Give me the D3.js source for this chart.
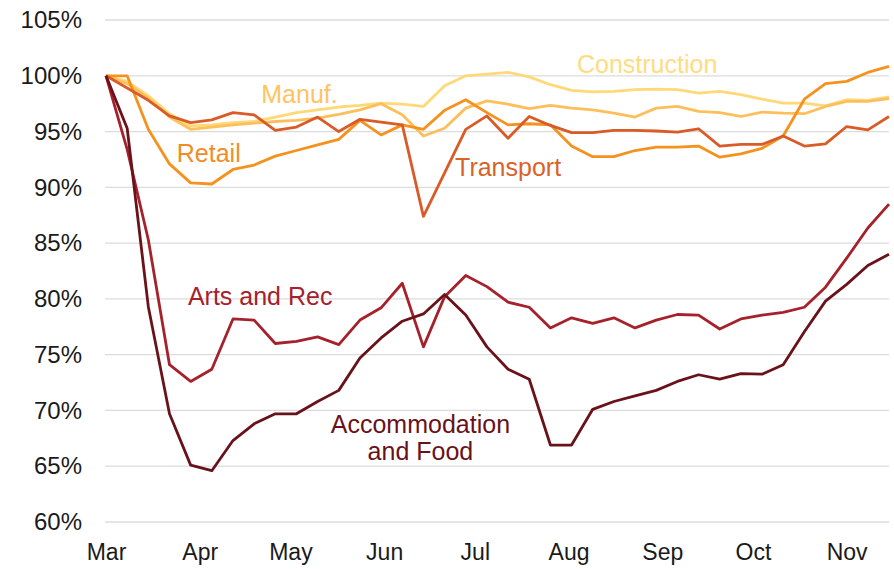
<!DOCTYPE html>
<html>
<head>
<meta charset="utf-8">
<script src="https://cdn.jsdelivr.net/npm/d3@7"></script>
<style>
  html, body { margin: 0; padding: 0; background: #fff; }
  svg { display: block; font-family: 'Liberation Sans', Arial, Helvetica, sans-serif; }
</style>
</head>
<body>
<svg id="chart" width="894" height="569"></svg>
<script>
// weekly observations, Mar 1 .. Nov 15
const weeks = [
  '2020-03-01', '2020-03-08', '2020-03-15', '2020-03-22', '2020-03-29',
  '2020-04-05', '2020-04-12', '2020-04-19', '2020-04-26',
  '2020-05-03', '2020-05-10', '2020-05-17', '2020-05-24', '2020-05-31',
  '2020-06-07', '2020-06-14', '2020-06-21', '2020-06-28',
  '2020-07-05', '2020-07-12', '2020-07-19', '2020-07-26',
  '2020-08-02', '2020-08-09', '2020-08-16', '2020-08-23', '2020-08-30',
  '2020-09-06', '2020-09-13', '2020-09-20', '2020-09-27',
  '2020-10-04', '2020-10-11', '2020-10-18', '2020-10-25',
  '2020-11-01', '2020-11-08', '2020-11-15',
]

const construction = [
  100, 99.5, 98.2, 96.6, 95.5, 95.6, 95.8, 95.9, 96.3, 96.7,
  96.95, 97.2, 97.35, 97.55, 97.45, 97.25, 99.1, 100.0, 100.15, 100.3,
  99.9, 99.2, 98.7, 98.55, 98.6, 98.75, 98.8, 98.75, 98.45, 98.6,
  98.3, 97.9, 97.55, 97.55, 97.3, 97.85, 97.8, 98.1,
]
const manuf = [
  100, 99.3, 98.0, 96.3, 95.2, 95.4, 95.6, 95.75, 95.9, 96.0,
  96.2, 96.55, 96.95, 97.5, 96.5, 94.6, 95.3, 97.1, 97.75, 97.45,
  97.05, 97.35, 97.1, 96.95, 96.65, 96.3, 97.1, 97.25, 96.8, 96.7,
  96.35, 96.75, 96.65, 96.6, 97.25, 97.7, 97.7, 97.95,
]
const retail = [
  100, 100, 95.2, 92.1, 90.4, 90.3, 91.6, 92.0, 92.8, 93.3,
  93.8, 94.3, 96.0, 94.7, 95.6, 95.2, 96.9, 97.85, 96.7, 95.6,
  95.7, 95.6, 93.7, 92.75, 92.75, 93.3, 93.6, 93.6, 93.7, 92.7,
  93.0, 93.5, 94.6, 97.9, 99.3, 99.5, 100.3, 100.85,
]
const transport = [
  100, 98.9, 97.8, 96.4, 95.8, 96.05, 96.7, 96.5, 95.1, 95.4,
  96.3, 95.0, 96.1, 95.85, 95.6, 87.4, 91.3, 95.2, 96.4, 94.4,
  96.35, 95.55, 94.9, 94.9, 95.1, 95.1, 95.05, 94.95, 95.25, 93.7,
  93.85, 93.85, 94.6, 93.7, 93.9, 95.45, 95.15, 96.35,
]
const artsRec = [
  100, 93.4, 85.3, 74.1, 72.6, 73.7, 78.2, 78.1, 76.0, 76.2,
  76.6, 75.9, 78.1, 79.2, 81.4, 75.7, 80.2, 82.1, 81.1, 79.7,
  79.25, 77.4, 78.3, 77.8, 78.3, 77.4, 78.1, 78.6, 78.55, 77.3,
  78.2, 78.55, 78.8, 79.25, 81.05, 83.65, 86.35, 88.5,
]
const accomFood = [
  100, 95.3, 79.3, 69.7, 65.1, 64.6, 67.3, 68.8, 69.7, 69.7,
  70.8, 71.8, 74.7, 76.5, 78.0, 78.65, 80.4, 78.55, 75.7, 73.7,
  72.8, 66.9, 66.9, 70.1, 70.8, 71.3, 71.8, 72.6, 73.2, 72.8,
  73.3, 73.25, 74.1, 77.05, 79.8, 81.3, 83.0, 84.0,
]

const yTicks = [60, 65, 70, 75, 80, 85, 90, 95, 100, 105]

// series + where their inline label sits (in data units)
const series = [
  { name: 'Construction', values: construction, color: '#ffd978', labelColor: '#ffdc80',
    label: ['Construction'], at: ['2020-08-27', 100.22] },
  { name: 'Manuf.', values: manuf, color: '#fdbf5b', labelColor: '#ffc460',
    label: ['Manuf.'], at: ['2020-05-04', 97.58] },
  { name: 'Retail', values: retail, color: '#f5921e', labelColor: '#f28c28',
    label: ['Retail'], at: ['2020-04-04', 92.3] },
  { name: 'Transport', values: transport, color: '#d95b27', labelColor: '#d9622b',
    label: ['Transport'], at: ['2020-07-12', 91.0] },
  { name: 'Arts and Rec', values: artsRec, color: '#a5212b', labelColor: '#a5212b',
    label: ['Arts and Rec'], at: ['2020-04-21', 79.44] },
  { name: 'Accommodation and Food', values: accomFood, color: '#6a1219', labelColor: '#6a1219',
    label: ['Accommodation', 'and Food'], at: ['2020-06-13', 67.95] },
]

const width = 894
const height = 569
const margin = { top: 20, right: 5, bottom: 47, left: 106 }

const parse = d3.timeParse('%Y-%m-%d')
const dates = weeks.map(parse)

const svg = d3.select('#chart')

const x = d3.scaleTime()
  .domain(d3.extent(dates))
  .range([margin.left, width - margin.right])

const y = d3.scaleLinear()
  .domain([60, 105])
  .range([height - margin.bottom, margin.top])

// grid
svg.append('g')
  .selectAll('line')
  .data(yTicks)
  .join('line')
  .attr('x1', margin.left - 1)
  .attr('x2', width - margin.right)
  .attr('y1', d => y(d))
  .attr('y2', d => y(d))
  .attr('stroke', '#dcdcdc')
  .attr('stroke-width', 1.3)

// y axis labels
const yAxis = svg.append('g')
  .attr('transform', `translate(${margin.left - 24},0)`)
  .call(d3.axisLeft(y).tickValues(yTicks).tickSize(0).tickFormat(d => `${d}%`))
yAxis.select('.domain').remove()
yAxis.selectAll('text')
  .attr('x', 0)
  .attr('font-size', 24)
  .attr('fill', '#1a1a1a')
  .attr('font-family', null)

// x axis labels
const xAxis = svg.append('g')
  .attr('transform', `translate(0,${height - margin.bottom})`)
  .call(d3.axisBottom(x).ticks(d3.timeMonth.every(1)).tickSize(0).tickFormat(d3.timeFormat('%b')))
xAxis.select('.domain').remove()
xAxis.selectAll('text')
  .attr('y', 22)
  .attr('font-size', 23)
  .attr('fill', '#1a1a1a')
  .attr('font-family', null)

const line = d3.line()
  .x((d, i) => x(dates[i]))
  .y(d => y(d))

svg.append('g')
  .selectAll('path')
  .data(series)
  .join('path')
  .attr('fill', 'none')
  .attr('stroke', d => d.color)
  .attr('stroke-width', 2.8)
  .attr('stroke-linejoin', 'round')
  .attr('d', d => line(d.values))

// inline labels
const labels = svg.append('g')
  .selectAll('text')
  .data(series)
  .join('text')
  .attr('text-anchor', 'middle')
  .attr('font-size', 25)
  .attr('fill', d => d.labelColor)
  .attr('x', d => x(parse(d.at[0])))
  .attr('y', d => y(d.at[1]))
labels.selectAll('tspan')
  .data(d => d.label.map(t => ({ t, d })))
  .join('tspan')
  .attr('x', d => x(parse(d.d.at[0])))
  .attr('dy', (d, i) => (i === 0 ? 0 : 27))
  .text(d => d.t)
</script>
</body>
</html>
